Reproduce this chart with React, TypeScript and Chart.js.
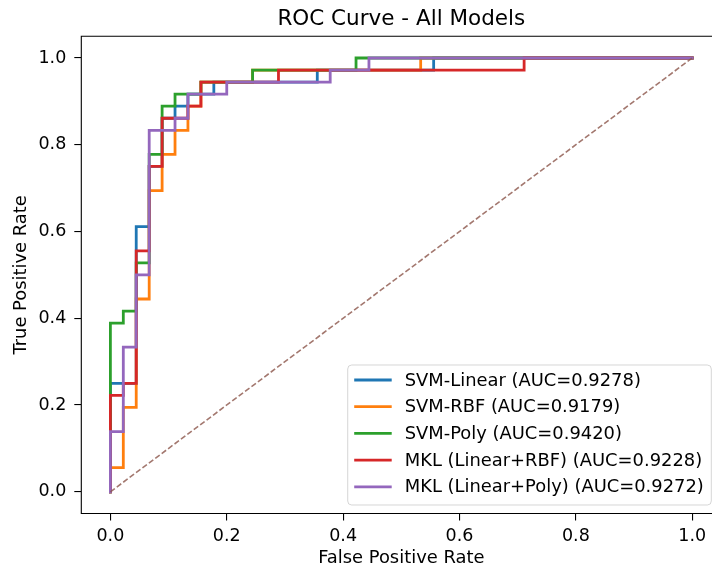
import React, { useEffect, useRef } from "react";
import { Chart, registerables } from "chart.js";

Chart.register(...registerables);

const chartTitle = "ROC Curve - All Models";
const xAxisLabel = "False Positive Rate";
const yAxisLabel = "True Positive Rate";
const tickValues = [0, 0.2, 0.4, 0.6, 0.8, 1.0];

const modelNames = ["SVM-Linear", "SVM-RBF", "SVM-Poly", "MKL (Linear+RBF)", "MKL (Linear+Poly)"];
const modelAuc = [0.9278, 0.9179, 0.942, 0.9228, 0.9272];
const modelColors = ["#1f77b4", "#ff7f0e", "#2ca02c", "#d62728", "#9467bd"];

const svmLinearFpr = [0, 0, 0.0444, 0.0444, 0.0667, 0.0667, 0.0889, 0.0889, 0.1111, 0.1111, 0.1333, 0.1333, 0.1778, 0.1778, 0.3556, 0.3556, 0.5556, 0.5556, 1];
const svmLinearTpr = [0, 0.25, 0.25, 0.6111, 0.6111, 0.75, 0.75, 0.8611, 0.8611, 0.8889, 0.8889, 0.9167, 0.9167, 0.9444, 0.9444, 0.9722, 0.9722, 1, 1];

const svmRbfFpr = [0, 0, 0.0222, 0.0222, 0.0444, 0.0444, 0.0667, 0.0667, 0.0889, 0.0889, 0.1111, 0.1111, 0.1333, 0.1333, 0.1556, 0.1556, 0.2444, 0.2444, 0.5333, 0.5333, 1];
const svmRbfTpr = [0, 0.0556, 0.0556, 0.1944, 0.1944, 0.4444, 0.4444, 0.6944, 0.6944, 0.7778, 0.7778, 0.8333, 0.8333, 0.8889, 0.8889, 0.9444, 0.9444, 0.9722, 0.9722, 1, 1];

const svmPolyFpr = [0, 0, 0.0222, 0.0222, 0.0444, 0.0444, 0.0667, 0.0667, 0.0889, 0.0889, 0.1111, 0.1111, 0.1556, 0.1556, 0.2444, 0.2444, 0.4222, 0.4222, 1];
const svmPolyTpr = [0, 0.3889, 0.3889, 0.4167, 0.4167, 0.5278, 0.5278, 0.7778, 0.7778, 0.8889, 0.8889, 0.9167, 0.9167, 0.9444, 0.9444, 0.9722, 0.9722, 1, 1];

const mklRbfFpr = [0, 0, 0.0222, 0.0222, 0.0444, 0.0444, 0.0667, 0.0667, 0.0889, 0.0889, 0.1333, 0.1333, 0.1556, 0.1556, 0.2889, 0.2889, 0.7111, 0.7111, 1];
const mklRbfTpr = [0, 0.2222, 0.2222, 0.25, 0.25, 0.5556, 0.5556, 0.75, 0.75, 0.8611, 0.8611, 0.8889, 0.8889, 0.9444, 0.9444, 0.9722, 0.9722, 1, 1];

const mklPolyFpr = [0, 0, 0.0222, 0.0222, 0.0444, 0.0444, 0.0667, 0.0667, 0.1111, 0.1111, 0.1333, 0.1333, 0.2, 0.2, 0.3778, 0.3778, 0.4444, 0.4444, 1];
const mklPolyTpr = [0, 0.1389, 0.1389, 0.3333, 0.3333, 0.5, 0.5, 0.8333, 0.8333, 0.8611, 0.8611, 0.9167, 0.9167, 0.9444, 0.9444, 0.9722, 0.9722, 1, 1];

const chanceFpr = [0, 1];
const chanceTpr = [0, 1];

const FONT = "'DejaVu Sans', sans-serif";
const LEGEND_FONT_SIZE = 17.9;

export default function App() {
  const ref = useRef<HTMLCanvasElement>(null);

  useEffect(() => {
    if (!ref.current) return;
    const fprs = [svmLinearFpr, svmRbfFpr, svmPolyFpr, mklRbfFpr, mklPolyFpr];
    const tprs = [svmLinearTpr, svmRbfTpr, svmPolyTpr, mklRbfTpr, mklPolyTpr];
    const labels = modelNames.map((n, i) => `${n} (AUC=${modelAuc[i].toFixed(4)})`);

    const datasets: any[] = modelNames.map((n, i) => ({
      label: labels[i],
      data: fprs[i].map((x, j) => ({ x, y: tprs[i][j] })),
      borderColor: modelColors[i],
      backgroundColor: modelColors[i],
      borderWidth: 2.8,
      pointRadius: 0,
      fill: false,
      tension: 0,
      borderJoinStyle: "miter",
      borderCapStyle: "square",
      order: modelNames.length - i,
    }));
    datasets.push({
      label: "chance",
      data: chanceFpr.map((x, j) => ({ x, y: chanceTpr[j] })),
      borderColor: "rgba(140,86,75,0.8)",
      borderWidth: 1.6,
      borderDash: [5.5, 2.5],
      pointRadius: 0,
      fill: false,
      tension: 0,
      order: 0,
    });

    const framePlugin = {
      id: "frameAndLegend",
      afterDatasetsDraw(chart: any) {
        const ctx = chart.ctx;
        const a = chart.chartArea;
        ctx.save();
        ctx.strokeStyle = "#000";
        ctx.lineWidth = 1.1;
        ctx.beginPath();
        ctx.moveTo(a.right, a.top);
        ctx.lineTo(a.left, a.top);
        ctx.lineTo(a.left, a.bottom);
        ctx.lineTo(a.right, a.bottom);
        ctx.stroke();
        ctx.restore();
      },
      afterDraw(chart: any) {
        const ctx = chart.ctx;
        const a = chart.chartArea;
        ctx.save();
        ctx.font = `${LEGEND_FONT_SIZE}px ${FONT}`;
        let maxW = 0;
        labels.forEach((t) => {
          maxW = Math.max(maxW, ctx.measureText(t).width);
        });
        const right = a.right - 10;
        const bottom = a.bottom - 8.5;
        const w = 57 + maxW + 7.5;
        const h = 140;
        const left = right - w;
        const top = bottom - h;
        const r = 4;
        ctx.beginPath();
        ctx.moveTo(left + r, top);
        ctx.lineTo(right - r, top);
        ctx.quadraticCurveTo(right, top, right, top + r);
        ctx.lineTo(right, bottom - r);
        ctx.quadraticCurveTo(right, bottom, right - r, bottom);
        ctx.lineTo(left + r, bottom);
        ctx.quadraticCurveTo(left, bottom, left, bottom - r);
        ctx.lineTo(left, top + r);
        ctx.quadraticCurveTo(left, top, left + r, top);
        ctx.closePath();
        ctx.fillStyle = "rgba(255,255,255,0.8)";
        ctx.fill();
        ctx.strokeStyle = "rgba(204,204,204,0.8)";
        ctx.lineWidth = 1;
        ctx.stroke();
        ctx.textBaseline = "middle";
        ctx.textAlign = "left";
        labels.forEach((t, i) => {
          const cy = top + 15 + i * 26.7;
          ctx.strokeStyle = modelColors[i];
          ctx.lineWidth = 2.8;
          ctx.lineCap = "butt";
          ctx.beginPath();
          ctx.moveTo(left + 6.5, cy);
          ctx.lineTo(left + 44, cy);
          ctx.stroke();
          ctx.fillStyle = "#000";
          ctx.fillText(t, left + 57, cy + 1);
        });
        ctx.restore();
      },
    };

    const axisCommon = (label: string, isX: boolean) => ({
      type: "linear" as const,
      min: -0.05,
      max: 1.05,
      afterBuildTicks: (s: any) => {
        s.ticks = tickValues.map((v) => ({ value: v }));
      },
      afterFit: (s: any) => {
        if (isX) s.height = 55.5;
        else s.width = 81.3;
      },
      grid: {
        display: true,
        drawOnChartArea: false,
        drawTicks: true,
        tickLength: 7,
        color: "#000",
        tickColor: "#000",
        lineWidth: 1.1,
      },
      border: { display: false },
      ticks: {
        color: "#000",
        font: { family: FONT, size: 17.5 },
        padding: isX ? 5.5 : 8,
        maxRotation: 0,
        autoSkip: false,
        callback: (v: any) => Number(v).toFixed(1),
      },
      title: {
        display: true,
        text: label,
        color: "#000",
        font: { family: FONT, size: 17.9 },
        padding: isX ? { top: 0, bottom: 0 } : { top: 11, bottom: 0 },
      },
    });

    const chart = new Chart(ref.current, {
      type: "line",
      data: { datasets },
      options: {
        animation: false,
        responsive: true,
        maintainAspectRatio: false,
        events: [],
        layout: { padding: { left: 0, top: 0, right: 8.7, bottom: 0 } },
        plugins: {
          legend: { display: false },
          tooltip: { enabled: false },
          title: {
            display: true,
            text: chartTitle,
            color: "#000",
            font: { family: FONT, size: 21.5, weight: "normal" as any },
            padding: { top: 6.4, bottom: 4.1 },
            fullSize: false,
          },
        },
        scales: {
          x: axisCommon(xAxisLabel, true) as any,
          y: axisCommon(yAxisLabel, false) as any,
        },
      },
      plugins: [framePlugin],
    });
    return () => chart.destroy();
  }, []);

  return (
    <div style={{ position: "fixed", left: 0, top: 0, width: 712, height: 569, overflow: "hidden", background: "#fff" }}>
      <div style={{ position: "relative", width: 730, height: 569 }}>
        <canvas ref={ref} />
      </div>
    </div>
  );
}
